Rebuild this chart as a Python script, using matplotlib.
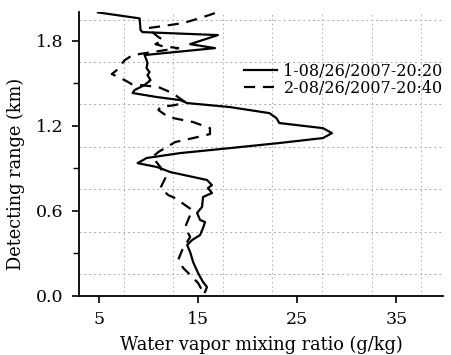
import matplotlib
matplotlib.use("Agg")
import matplotlib.pyplot as plt
import numpy as np

plt.rcParams['font.family'] = ['DejaVu Serif']

# series 1 (solid) - 08/26/2007 20:20
ratio1 = [4.9, 9.1, 9.2, 9.4, 17.0, 14.2, 16.7, 9.6, 9.8, 9.9, 9.8, 10.1, 9.9, 10.2,
          9.6, 8.6, 8.4, 10.9, 13.2, 13.9, 18.2, 22.2, 22.9, 23.2, 27.6, 28.5, 27.6,
          23.2, 18.2, 13.2, 9.8, 8.9, 10.9, 12.2, 15.9, 16.4, 16.0, 16.4, 15.5, 15.4,
          14.9, 15.2, 15.7, 15.5, 15.2, 14.4, 13.9, 14.2, 14.5, 15.0, 15.5, 15.9, 15.7]
range1 = [2.0, 1.958, 1.875, 1.861, 1.840, 1.776, 1.748, 1.699, 1.664, 1.642, 1.607,
          1.579, 1.558, 1.522, 1.487, 1.452, 1.431, 1.402, 1.381, 1.360, 1.332, 1.289,
          1.254, 1.219, 1.183, 1.148, 1.113, 1.078, 1.042, 1.007, 0.972, 0.936, 0.908,
          0.873, 0.817, 0.781, 0.760, 0.725, 0.697, 0.627, 0.584, 0.535, 0.520, 0.478,
          0.428, 0.393, 0.358, 0.308, 0.238, 0.160, 0.097, 0.061, 0.026]

# series 2 (dashed) - 08/26/2007 20:40
ratio2 = [16.7, 15.2, 13.5, 11.4, 9.9, 11.0, 11.5, 10.7, 11.4, 13.0, 8.4, 7.6, 6.8,
          6.3, 7.6, 8.3, 11.0, 12.4, 13.7, 12.7, 11.2, 11.0, 12.0, 14.5, 16.2, 16.2,
          14.5, 12.7, 11.0, 10.4, 11.2, 11.7, 11.2, 12.0, 12.7, 14.4, 14.0, 13.7, 14.2,
          13.4, 13.0, 13.5, 14.2, 15.0, 15.5]
range2 = [1.995, 1.960, 1.925, 1.903, 1.889, 1.826, 1.805, 1.776, 1.762, 1.748, 1.699,
          1.663, 1.593, 1.565, 1.522, 1.494, 1.473, 1.431, 1.367, 1.346, 1.332, 1.311,
          1.261, 1.226, 1.183, 1.141, 1.113, 1.085, 1.015, 0.979, 0.908, 0.831, 0.760,
          0.710, 0.689, 0.605, 0.535, 0.485, 0.414, 0.323, 0.253, 0.196, 0.147, 0.090,
          0.026]

labels = ['1-08/26/2007-20:20', '2-08/26/2007-20:40']
xticks = [5, 15, 25, 35]
yticks = [0.0, 0.6, 1.2, 1.8]

fig = plt.figure(figsize=(4.52, 3.55), dpi=100)
ax = fig.add_axes([0.175, 0.167, 0.805, 0.798])

# grid sits between the ticks in the original
for gx in np.arange(7.5, 40, 5):
    ax.axvline(gx, color='#aaaaaa', lw=0.7, ls=(0, (1.5, 3)), zorder=0)
for gy in np.arange(0.15, 2.0, 0.3):
    ax.axhline(gy, color='#aaaaaa', lw=0.7, ls=(0, (2, 3)), zorder=0)

ax.plot(ratio1, range1, color='black', lw=1.6, ls='-', label=labels[0])
ax.plot(ratio2, range2, color='black', lw=1.6, ls=(0, (5, 3.5)), label=labels[1])

ax.set_xlim(3, 39.7)
ax.set_ylim(0, 2.0)
ax.set_xticks(xticks)
ax.set_yticks(yticks)
ax.set_yticks([0.3, 0.9, 1.5], minor=True)
ax.set_xticklabels([str(t) for t in xticks])
ax.set_yticklabels(['%.1f' % t for t in yticks])

for s in ['top', 'right']:
    ax.spines[s].set_visible(False)
for s in ['left', 'bottom']:
    ax.spines[s].set_linewidth(1.3)
ax.tick_params(which='major', length=5, width=1.2, labelsize=12.5, pad=6)
ax.tick_params(which='minor', length=4, width=1.0)

ax.set_xlabel('Water vapor mixing ratio (g/kg)', fontsize=12.8)
ax.set_ylabel('Detecting range (km)', fontsize=12.8)
ax.xaxis.set_label_coords(0.5, -0.14)
ax.yaxis.set_label_coords(-0.148, 0.43)

ax.legend(loc='upper left', bbox_to_anchor=(0.43, 0.85), frameon=False,
          fontsize=11.5, handlelength=2.1, handletextpad=0.4, labelspacing=0.0,
          borderpad=0)

fig.savefig('out.png', dpi=100)
